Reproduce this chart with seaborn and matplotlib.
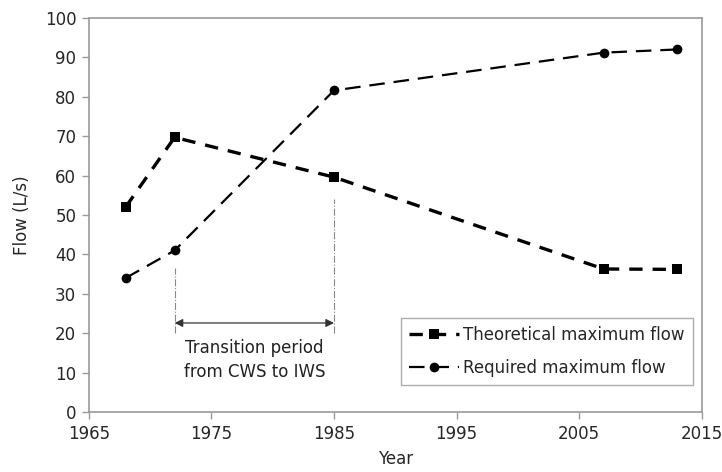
import matplotlib
matplotlib.use("Agg")
import matplotlib.pyplot as plt
import seaborn as sns
import pandas as pd

years = [1968, 1972, 1985, 2007, 2013]
theoretical = [52.0, 69.7, 59.6, 36.3, 36.2]
required = [34.0, 41.0, 81.6, 91.2, 92.0]
transition = [1972, 1985]

sns.set_theme(style="white")
plt.rcParams['font.family'] = ['DejaVu Sans']

df = pd.DataFrame({'Year': years, 'Theoretical': theoretical, 'Required': required})

fig, ax = plt.subplots(figsize=(7.22, 4.72), dpi=100)
fig.subplots_adjust(left=0.123, right=0.972, top=0.962, bottom=0.127)

sns.lineplot(data=df, x='Year', y='Theoretical', ax=ax, color='black', lw=2.4,
             marker='s', markersize=7.5, markeredgewidth=0, dashes=False,
             label='Theoretical maximum flow')
ax.lines[-1].set_dashes([4, 3])
sns.lineplot(data=df, x='Year', y='Required', ax=ax, color='black', lw=1.6,
             marker='o', markersize=7, markeredgewidth=0, dashes=False,
             label='Required maximum flow')
ax.lines[-1].set_dashes([7, 4])

# transition period markers
ax.vlines(transition[0], 20, 36.5, color='#888888', lw=0.8, linestyles='-.')
ax.vlines(transition[1], 20, 54, color='#888888', lw=0.8, linestyles='-.')
ax.annotate('', xy=(transition[0], 22.6), xytext=(transition[1], 22.6),
            arrowprops=dict(arrowstyle='<|-|>', color='#333333', lw=0.9,
                            mutation_scale=12, shrinkA=0, shrinkB=0))
ax.text(sum(transition) / 2, 13.2, 'Transition period\nfrom CWS to IWS',
        ha='center', va='center', fontsize=12, color='#222222', linespacing=1.45)

ax.set_xlim(1965, 2015)
ax.set_ylim(0, 100)
ax.set_xticks(range(1965, 2016, 10))
ax.set_yticks(range(0, 101, 10))
ax.set_xlabel('Year', fontsize=12, labelpad=5)
ax.set_ylabel('Flow (L/s)', fontsize=12, labelpad=10)
ax.tick_params(axis='both', labelsize=12, length=5, width=1, color='#999999',
               direction='out', bottom=True, left=True, pad=4)
for s in ax.spines.values():
    s.set_color('#999999')
    s.set_linewidth(1.2)

leg = ax.legend(loc='lower right', bbox_to_anchor=(0.985, 0.068), fontsize=12,
                frameon=True, fancybox=False, edgecolor='#999999',
                handlelength=3.0, handletextpad=0.2, borderpad=0.5,
                labelspacing=0.9, borderaxespad=0)
leg.get_frame().set_linewidth(1.0)

fig.savefig('out.png', dpi=100)
